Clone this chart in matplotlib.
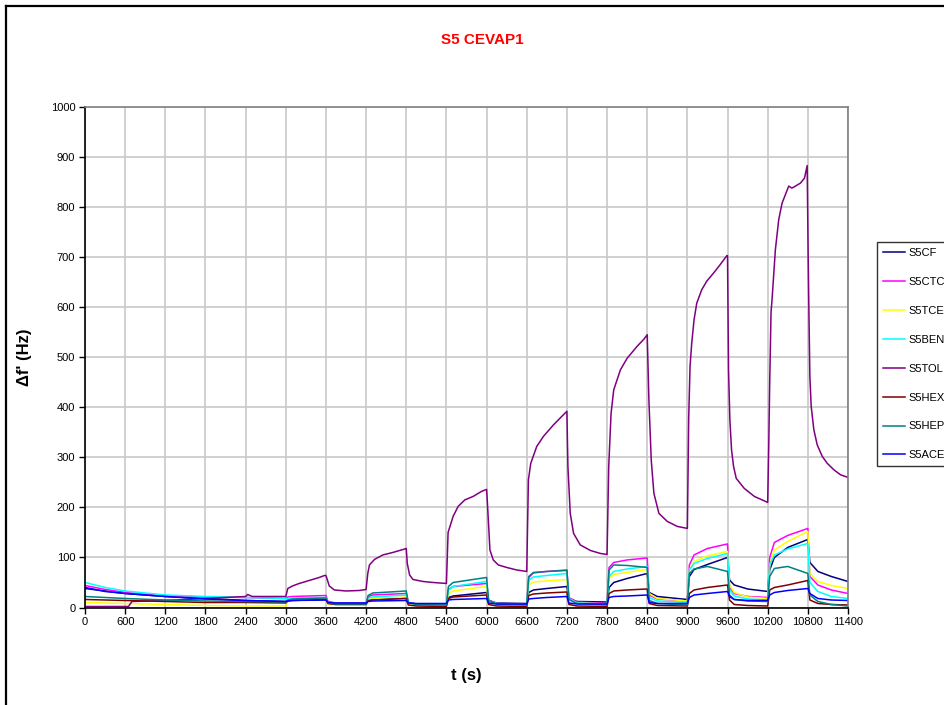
import matplotlib
matplotlib.use("Agg")
import matplotlib.pyplot as plt
from matplotlib.lines import Line2D

# ---------------- data ----------------
series_names = ['S5CF', 'S5CTC', 'S5TCE', 'S5BEN', 'S5TOL', 'S5HEX', 'S5HEP', 'S5ACE']
series_colors = ['#000080', '#FF00FF', '#FFFF00', '#00FFFF', '#800080', '#800000', '#008080', '#0000FF']

x_ticks = list(range(0, 11401, 600))
y_ticks = list(range(0, 1001, 100))

# shared time base (s) for the seven smaller sensors
t_small = [0, 300, 600, 1200, 1800, 2400,
           3000, 3030, 3100, 3600, 3630, 3750,
           4200, 4230, 4300, 4800, 4830, 4950,
           5400, 5430, 5500, 6000, 6030, 6150,
           6600, 6630, 6700, 6900, 7200, 7230, 7350,
           7800, 7830, 7900, 8100, 8400, 8430, 8550,
           9000, 9030, 9100, 9300, 9600, 9630, 9700, 9900,
           10200, 10230, 10300, 10500, 10800, 10830, 10950, 11150, 11400]

v_cf = [38, 33, 28, 22, 18, 14,
        12, 14, 15, 16, 10, 8,
        8, 15, 16, 19, 10, 7,
        7, 20, 23, 30, 14, 9,
        8, 30, 35, 38, 42, 18, 12,
        11, 40, 50, 58, 68, 30, 22,
        16, 62, 76, 86, 100, 55, 45, 37,
        32, 75, 100, 120, 136, 90, 72, 62, 52]

v_ctc = [44, 36, 30, 23, 21, 20,
         18, 21, 22, 24, 12, 9,
         9, 22, 25, 28, 10, 7,
         6, 36, 42, 48, 15, 8,
         6, 60, 69, 72, 75, 20, 11,
         8, 80, 90, 95, 99, 25, 17,
         13, 85, 105, 118, 127, 40, 28, 22,
         20, 100, 130, 144, 158, 62, 45, 35, 28]

v_tce = [10, 9, 8, 6, 4, 3,
         3, 13, 15, 17, 7, 5,
         5, 16, 18, 21, 8, 5,
         4, 28, 33, 42, 12, 7,
         5, 45, 51, 53, 56, 17, 9,
         7, 58, 66, 70, 76, 28, 18,
         13, 75, 92, 103, 112, 45, 30, 21,
         18, 85, 115, 132, 152, 68, 52, 44, 38]

v_ben = [50, 40, 33, 25, 22, 20,
         18, 18, 19, 20, 10, 8,
         8, 19, 21, 25, 9, 6,
         6, 35, 42, 52, 14, 8,
         6, 55, 61, 64, 68, 18, 9,
         7, 62, 72, 77, 82, 20, 13,
         10, 75, 88, 98, 108, 35, 23, 17,
         15, 85, 105, 117, 128, 50, 32, 22, 18]

v_hex = [16, 15, 14, 12, 10, 10,
         9, 13, 14, 16, 8, 6,
         6, 14, 15, 18, 5, 3,
         2, 18, 21, 25, 6, 3,
         2, 24, 27, 29, 31, 6, 3,
         2, 28, 33, 35, 37, 8, 4,
         3, 28, 35, 40, 45, 15, 6, 4,
         3, 35, 40, 45, 54, 15, 8, 6, 5]

v_hep = [22, 20, 18, 15, 13, 12,
         11, 15, 17, 19, 9, 7,
         7, 24, 29, 33, 10, 6,
         5, 42, 50, 60, 14, 7,
         5, 62, 70, 72, 74, 16, 8,
         5, 75, 85, 84, 80, 14, 8,
         5, 68, 77, 82, 72, 25, 16, 13,
         12, 62, 78, 82, 68, 25, 12, 6, 3]

v_ace = [40, 32, 28, 22, 17, 14,
         12, 13, 14, 15, 10, 9,
         9, 12, 13, 14, 9, 8,
         8, 15, 16, 18, 9, 7,
         7, 17, 18, 20, 22, 9, 7,
         7, 20, 22, 23, 25, 10, 8,
         8, 20, 25, 28, 32, 22, 16, 14,
         14, 25, 30, 34, 38, 28, 18, 15, 14]

# toluene sensor has its own, finer time base
t_tol = [0, 650, 700, 1200, 1800, 2400, 2430, 2500,
         3000, 3030, 3100, 3200, 3300, 3400, 3500, 3580, 3600,
         3650, 3725, 3900, 4100, 4200,
         4225, 4250, 4325, 4450, 4600, 4780, 4800,
         4815, 4850, 4900, 5050, 5200, 5400,
         5425, 5500, 5575, 5675, 5800, 5925, 6000,
         6010, 6050, 6100, 6175, 6300, 6450, 6600,
         6625, 6660, 6750, 6850, 7000, 7125, 7200,
         7215, 7250, 7300, 7400, 7550, 7700, 7800,
         7825, 7860, 7900, 8000, 8100, 8250, 8350, 8400,
         8425, 8460, 8500, 8575, 8700, 8850, 9000,
         9020, 9040, 9065, 9100, 9140, 9215, 9290, 9390, 9490, 9590, 9600,
         9615, 9635, 9660, 9690, 9730, 9850, 10000, 10200,
         10215, 10230, 10250, 10265, 10315, 10365, 10415, 10515, 10560, 10590, 10690, 10750, 10790,
         10805, 10815, 10830, 10850, 10890, 10940, 11015, 11090, 11190, 11290, 11400]

v_tol = [2, 2, 12, 14, 18, 22, 26, 22,
         22, 38, 43, 48, 52, 56, 60, 64, 64,
         43, 35, 33, 34, 36,
         68, 85, 96, 105, 110, 117, 118,
         88, 65, 56, 52, 50, 48,
         150, 182, 202, 215, 222, 232, 236,
         215, 115, 95, 85, 80, 75, 72,
         255, 288, 322, 342, 365, 382, 392,
         282, 188, 148, 125, 114, 108, 106,
         282, 388, 435, 475, 498, 522, 536, 545,
         415, 295, 228, 188, 172, 162, 158,
         380, 482, 528, 575, 608, 635, 652, 668, 685, 703, 703,
         475, 375, 315, 282, 258, 238, 222, 210,
         315, 448, 590, 615, 715, 775, 808, 842, 838, 840, 848, 858, 883,
         700, 600, 462, 402, 355, 325, 302, 288, 275, 265, 260]

series_t = [t_small, t_small, t_small, t_small, t_tol, t_small, t_small, t_small]
series_v = [v_cf, v_ctc, v_tce, v_ben, v_tol, v_hex, v_hep, v_ace]

# ---------------- figure ----------------
plt.rcParams['font.family'] = ['Liberation Sans', 'DejaVu Sans']

fig = plt.figure(figsize=(9.45, 7.05), dpi=100)
fig.patch.set_facecolor('white')

ax = fig.add_axes([85 / 945, 1 - 607.5 / 705, (848 - 85) / 945, (607.5 - 107) / 705])

handles = []
for name, col, tt, vv in zip(series_names, series_colors, series_t, series_v):
    h, = ax.plot(tt, vv, color=col, lw=1.1, label=name, solid_joinstyle='round')
    handles.append(h)

ax.set_xlim(0, 11400)
ax.set_ylim(0, 1000)
ax.set_xticks(x_ticks)
ax.set_yticks(y_ticks)
ax.set_xticklabels([str(v) for v in x_ticks], fontsize=8)
ax.set_yticklabels([str(v) for v in y_ticks], fontsize=8)
ax.tick_params(direction='out', length=4, width=1, colors='black', pad=3)
ax.grid(True, color='#c8c8c8', lw=1.2)
ax.set_axisbelow(True)
for s in ['top', 'right']:
    ax.spines[s].set_color('#808080')
    ax.spines[s].set_linewidth(1.2)
for s in ['left', 'bottom']:
    ax.spines[s].set_color('black')
    ax.spines[s].set_linewidth(1.2)

ax.set_ylabel("Δf' (Hz)", fontsize=12, fontweight='bold')
ax.yaxis.set_label_coords(-0.069, 0.5)
ax.set_xlabel("t (s)", fontsize=12, fontweight='bold')
ax.xaxis.set_label_coords(0.5, -0.121)

fig.text(482 / 945, 1 - 40 / 705, 'S5 CEVAP1', color='red', fontsize=11,
         fontweight='bold', ha='center', va='center')

leg = fig.legend(handles=handles, loc='upper left',
                 bbox_to_anchor=(877 / 945, 1 - 242 / 705), bbox_transform=fig.transFigure,
                 fontsize=8, frameon=True, fancybox=False, borderaxespad=0,
                 labelspacing=1.7, handlelength=2.0, handletextpad=0.3, borderpad=0.55)
leg.get_frame().set_edgecolor('black')
leg.get_frame().set_linewidth(1.0)

# chart-area border (left and top edges visible)
fig.add_artist(Line2D([6.5 / 945, 6.5 / 945], [0, 1 - 5.5 / 705], transform=fig.transFigure,
                      color='black', lw=1.6))
fig.add_artist(Line2D([6.5 / 945, 1.0], [1 - 5.5 / 705, 1 - 5.5 / 705], transform=fig.transFigure,
                      color='black', lw=1.6))

fig.savefig('out.png', dpi=100)
